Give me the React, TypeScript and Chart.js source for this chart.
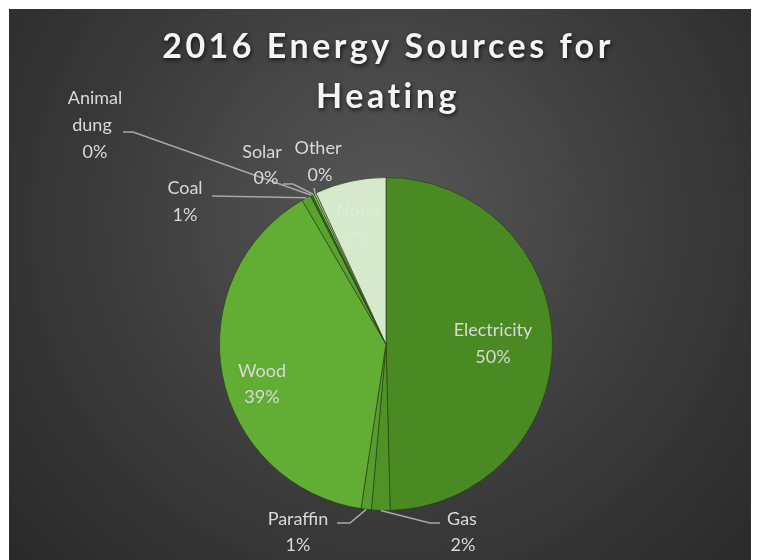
import React, { useEffect, useRef } from "react";
import { Chart, registerables } from "chart.js";

Chart.register(...registerables);

const categories = ["Electricity", "Gas", "Paraffin", "Wood", "Coal", "Animal dung", "Solar", "Other", "None"];
const shares = [49.6, 1.8, 1.0, 39.2, 0.9, 0.2, 0.2, 0.2, 6.9];
const sliceColors = ["#4a8a22", "#4f9327", "#579c2c", "#62ad34", "#5aa230", "#3a6a1b", "#86c164", "#a6d28c", "#d6e9cc"];
const titleLines = ["2016 Energy Sources for", "Heating"];

// label layout: text line offsets relative to the pie centre, and leader line points
type LabelLayout = {
  lines: [number, number][];
  leader?: [number, number][];
  color?: string;
};
const labelLayout: LabelLayout[] = [
  { lines: [[107, -14], [107, 13]] },
  { lines: [[76, 175], [77, 201]], leader: [[44, 179], [54, 179]] },
  { lines: [[-88, 175], [-88, 201]], leader: [[-36, 179], [-49, 179]] },
  { lines: [[-124, 27], [-124, 53]] },
  { lines: [[-201, -156], [-201, -129]], leader: [[-174, -148]] },
  { lines: [[-291, -246], [-294, -219], [-291, -192]], leader: [[-253, -212], [-263, -212]] },
  { lines: [[-124, -192], [-120, -166]], leader: [[-93, -160], [-103, -160]] },
  { lines: [[-68, -196], [-66, -169]], leader: [[-72, -156]] },
  { lines: [[-28, -133], [-28, -106]], color: "rgba(235,242,230,0.4)" },
];

const splitName = (name: string): string[] => {
  if (name === "Animal dung") return ["Animal", "dung"];
  return [name];
};

const bgPlugin = {
  id: "bgPlugin",
  beforeDraw(chart: any) {
    const { ctx, width, height } = chart;
    ctx.save();
    const g = ctx.createRadialGradient(378, 200, 20, 378, 220, 520);
    g.addColorStop(0, "#555555");
    g.addColorStop(0.55, "#3a3a3a");
    g.addColorStop(1, "#282828");
    ctx.fillStyle = g;
    ctx.fillRect(0, 0, width, height);
    ctx.restore();
  },
};

const labelPlugin = {
  id: "labelPlugin",
  afterDraw(chart: any) {
    const { ctx } = chart;
    const meta = chart.getDatasetMeta(0);
    const data = chart.data.datasets[0].data as number[];
    const total = data.reduce((a: number, b: number) => a + b, 0);
    ctx.save();
    // title
    ctx.font = "bold 34px Lato";
    (ctx as any).letterSpacing = "3.5px";
    ctx.textAlign = "center";
    ctx.textBaseline = "middle";
    ctx.shadowColor = "rgba(0,0,0,0.7)";
    ctx.shadowBlur = 4;
    ctx.shadowOffsetX = 1;
    ctx.shadowOffsetY = 2;
    ctx.fillStyle = "#f4f4f4";
    ctx.fillText(titleLines[0], 379, 38);
    ctx.fillText(titleLines[1], 379, 88);
    ctx.restore();

    ctx.save();
    ctx.font = "18px Lato";
    ctx.textAlign = "center";
    ctx.textBaseline = "middle";
    meta.data.forEach((arc: any, i: number) => {
      const lay = labelLayout[i];
      if (!lay) return;
      const { x, y, startAngle, endAngle, outerRadius } = arc.getProps(["x", "y", "startAngle", "endAngle", "outerRadius"], true);
      const mid = (startAngle + endAngle) / 2;
      if (lay.leader) {
        ctx.strokeStyle = "#a8a8a8";
        ctx.lineWidth = 1.5;
        ctx.beginPath();
        ctx.moveTo(x + Math.cos(mid) * outerRadius, y + Math.sin(mid) * outerRadius);
        lay.leader.forEach(([dx, dy]) => ctx.lineTo(x + dx, y + dy));
        ctx.stroke();
      }
      const pct = Math.round((data[i] / total) * 100) + "%";
      const texts = [...splitName(categories[i]), pct];
      ctx.fillStyle = lay.color || "#d9d9d9";
      texts.forEach((t, k) => {
        const p = lay.lines[k];
        if (!p) return;
        ctx.fillText(t, x + p[0], y + p[1]);
      });
    });
    ctx.restore();
  },
};

export default function App() {
  const ref = useRef<HTMLCanvasElement | null>(null);
  useEffect(() => {
    document.body.style.overflow = "hidden";
    if (!ref.current) return;
    const chart = new Chart(ref.current, {
      type: "pie",
      data: {
        labels: categories,
        datasets: [
          {
            data: shares,
            backgroundColor: sliceColors,
            borderColor: "rgba(36,60,20,0.6)",
            borderWidth: 1,
          },
        ],
      },
      options: {
        animation: false,
        responsive: true,
        maintainAspectRatio: false,
        layout: { padding: { top: 168, bottom: 49, left: 210, right: 204 } },
        plugins: {
          legend: { display: false },
          title: { display: false },
          tooltip: { enabled: false },
        },
      },
      plugins: [bgPlugin, labelPlugin],
    });
    return () => chart.destroy();
  }, []);
  return (
    <div style={{ width: 748, height: 551, marginLeft: 1, marginTop: 1, position: "relative" }}>
      <canvas ref={ref} />
    </div>
  );
}
